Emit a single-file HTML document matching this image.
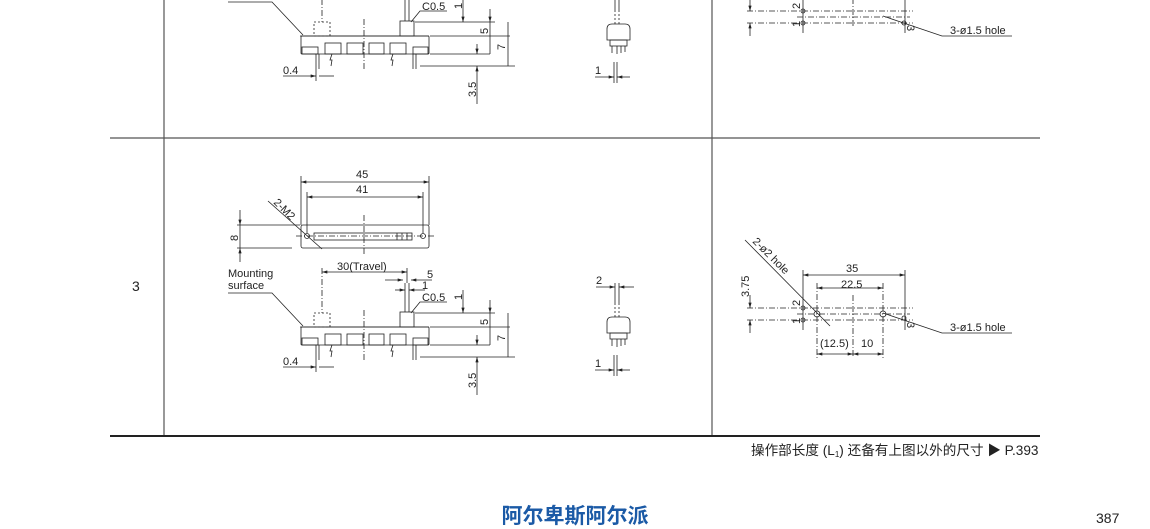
<!DOCTYPE html>
<html><head><meta charset="utf-8"><style>
html,body{margin:0;padding:0;background:#fff;width:1150px;height:529px;overflow:hidden}
svg{display:block}
text{font-family:"Liberation Sans","Noto Sans CJK SC",sans-serif;fill:#222}
</style></head><body>
<svg width="1150" height="529" viewBox="0 0 1150 529" xmlns="http://www.w3.org/2000/svg">
<defs>
<marker id="a" viewBox="0 0 10 6" refX="10" refY="3" markerWidth="8" markerHeight="4" orient="auto-start-reverse"><path d="M0,0L10,3L0,6z" fill="#222"/></marker>
</defs>
<g stroke="#555" stroke-width="1.2" fill="none">
<line x1="110" y1="138" x2="1040" y2="138"/>
<line x1="164" y1="0" x2="164" y2="436"/>
<line x1="712" y1="0" x2="712" y2="436"/>
</g>
<line x1="110" y1="436" x2="1040" y2="436" stroke="#222" stroke-width="2"/>
<text x="132" y="291" font-size="14">3</text>

<!-- LOWER FRONT -->
<g stroke="#222" stroke-width="0.8" fill="none" font-size="11">
<rect x="301" y="225" width="128" height="23" rx="2"/>
<rect x="314" y="233" width="98" height="7"/>
<line x1="397" y1="233" x2="397" y2="240"/><line x1="402" y1="233" x2="402" y2="240"/><line x1="407" y1="233" x2="407" y2="240"/>
<circle cx="307" cy="236" r="2.5"/><circle cx="423" cy="236" r="2.5"/>
<line x1="296" y1="236" x2="436" y2="236" stroke-dasharray="6,2,1,2"/>
<line x1="364" y1="215" x2="364" y2="256" stroke-dasharray="6,2,1,2"/>
<line x1="301" y1="176" x2="301" y2="225"/><line x1="429" y1="176" x2="429" y2="225"/>
<line x1="307" y1="192" x2="307" y2="233"/><line x1="423" y1="192" x2="423" y2="233"/>
<line x1="301" y1="182" x2="429" y2="182" marker-start="url(#a)" marker-end="url(#a)"/>
<line x1="307" y1="197" x2="423" y2="197" marker-start="url(#a)" marker-end="url(#a)"/>
<line x1="237" y1="225" x2="300" y2="225"/><line x1="237" y1="248" x2="292" y2="248"/>
<line x1="240" y1="210" x2="240" y2="225" marker-end="url(#a)"/><line x1="240" y1="262" x2="240" y2="248" marker-end="url(#a)"/>
<line x1="240" y1="225" x2="240" y2="248"/>
<line x1="268" y1="201" x2="322" y2="249"/>
<line x1="300" y1="327" x2="429" y2="327"/>
<rect x="301" y="327" width="128" height="18" rx="1"/>
<rect x="325" y="334" width="16" height="11"/><rect x="347" y="334" width="16" height="11"/>
<rect x="369" y="334" width="15" height="11"/><rect x="390" y="334" width="16" height="11"/>
<rect x="302" y="338" width="16" height="7"/><rect x="413" y="338" width="15" height="7"/>
<rect x="400" y="312" width="14" height="15"/>
<line x1="405" y1="283" x2="405" y2="312"/><line x1="409" y1="283" x2="409" y2="312"/>
<rect x="314" y="313" width="16" height="14" stroke-dasharray="2,2"/>
<line x1="322" y1="268" x2="322" y2="313" stroke-dasharray="6,2,1,2"/>
<line x1="407" y1="268" x2="407" y2="283"/>
<line x1="364" y1="310" x2="364" y2="360" stroke-dasharray="6,2,1,2"/>
<line x1="316" y1="345" x2="316" y2="372"/><line x1="319" y1="345" x2="319" y2="360"/>
<line x1="413" y1="345" x2="413" y2="360"/><line x1="416" y1="345" x2="416" y2="360"/>
<path d="M332 345l-2 6 2 0-1 6M393 345l-2 6 2 0-1 6"/>
<line x1="322" y1="272" x2="407" y2="272" marker-start="url(#a)" marker-end="url(#a)"/>
<line x1="385" y1="280" x2="403" y2="280" marker-end="url(#a)"/><line x1="432" y1="280" x2="411" y2="280" marker-end="url(#a)"/>
<line x1="395" y1="290" x2="405" y2="290" marker-end="url(#a)"/><line x1="425" y1="290" x2="409" y2="290" marker-end="url(#a)"/>
<path d="M447 302H420L411 313"/>
<line x1="415" y1="313" x2="495" y2="313"/><line x1="430" y1="327" x2="510" y2="327"/>
<line x1="430" y1="345" x2="490" y2="345"/><line x1="420" y1="357" x2="515" y2="357"/>
<line x1="463" y1="290" x2="463" y2="313" marker-end="url(#a)"/>
<line x1="490" y1="300" x2="490" y2="313" marker-end="url(#a)"/><line x1="490" y1="313" x2="490" y2="345"/>
<line x1="508" y1="313" x2="508" y2="357"/>
<line x1="477" y1="335" x2="477" y2="345" marker-end="url(#a)"/><line x1="477" y1="395" x2="477" y2="357" marker-end="url(#a)"/>
<line x1="283" y1="367" x2="316" y2="367" marker-end="url(#a)"/><line x1="334" y1="367" x2="319" y2="367"/>
<path d="M228 293H272L303 326"/>
<g stroke="none" fill="#222">
<text x="356" y="178">45</text><text x="356" y="193">41</text>
<text x="337" y="270">30(Travel)</text>
<text x="427" y="278">5</text><text x="422" y="289">1</text>
<text x="422" y="301">C0.5</text>
<text x="0" y="0" transform="translate(238,241) rotate(-90)">8</text>
<text x="0" y="0" transform="translate(273,203) rotate(45)">2-M2</text>
<text x="0" y="0" transform="translate(462,300) rotate(-90)">1</text>
<text x="0" y="0" transform="translate(488,325) rotate(-90)">5</text>
<text x="0" y="0" transform="translate(505,341) rotate(-90)">7</text>
<text x="0" y="0" transform="translate(476,388) rotate(-90)">3.5</text>
<text x="228" y="277">Mounting</text><text x="228" y="289">surface</text>
<text x="283" y="365">0.4</text>
</g>
</g>

<!-- UPPER FRONT (partial) -->
<g transform="translate(0,-291)" stroke="#222" stroke-width="0.8" fill="none" font-size="11">
<line x1="300" y1="327" x2="429" y2="327"/>
<rect x="301" y="327" width="128" height="18" rx="1"/>
<rect x="325" y="334" width="16" height="11"/><rect x="347" y="334" width="16" height="11"/>
<rect x="369" y="334" width="15" height="11"/><rect x="390" y="334" width="16" height="11"/>
<rect x="302" y="338" width="16" height="7"/><rect x="413" y="338" width="15" height="7"/>
<rect x="400" y="312" width="14" height="15"/>
<line x1="405" y1="283" x2="405" y2="312"/><line x1="409" y1="283" x2="409" y2="312"/>
<rect x="314" y="313" width="16" height="14" stroke-dasharray="2,2"/>
<line x1="322" y1="268" x2="322" y2="313" stroke-dasharray="6,2,1,2"/>
<line x1="364" y1="310" x2="364" y2="360" stroke-dasharray="6,2,1,2"/>
<line x1="316" y1="345" x2="316" y2="372"/><line x1="319" y1="345" x2="319" y2="360"/>
<line x1="413" y1="345" x2="413" y2="360"/><line x1="416" y1="345" x2="416" y2="360"/>
<path d="M332 345l-2 6 2 0-1 6M393 345l-2 6 2 0-1 6"/>
<path d="M447 302H420L411 313"/>
<line x1="415" y1="313" x2="495" y2="313"/><line x1="430" y1="327" x2="510" y2="327"/>
<line x1="430" y1="345" x2="490" y2="345"/><line x1="420" y1="357" x2="515" y2="357"/>
<line x1="463" y1="290" x2="463" y2="313" marker-end="url(#a)"/>
<line x1="490" y1="300" x2="490" y2="313" marker-end="url(#a)"/><line x1="490" y1="313" x2="490" y2="345"/>
<line x1="508" y1="313" x2="508" y2="357"/>
<line x1="477" y1="335" x2="477" y2="345" marker-end="url(#a)"/><line x1="477" y1="395" x2="477" y2="357" marker-end="url(#a)"/>
<line x1="283" y1="367" x2="316" y2="367" marker-end="url(#a)"/><line x1="334" y1="367" x2="319" y2="367"/>
<path d="M228 293H272L303 326"/>
<g stroke="none" fill="#222">
<text x="422" y="301">C0.5</text>
<text x="0" y="0" transform="translate(462,300) rotate(-90)">1</text>
<text x="0" y="0" transform="translate(488,325) rotate(-90)">5</text>
<text x="0" y="0" transform="translate(505,341) rotate(-90)">7</text>
<text x="0" y="0" transform="translate(476,388) rotate(-90)">3.5</text>
<text x="283" y="365">0.4</text>
</g>
</g>

<!-- SIDE VIEWS -->
<g stroke="#222" stroke-width="0.8" fill="none" font-size="11">
<line x1="596" y1="287" x2="615" y2="287" marker-end="url(#a)"/><line x1="634" y1="287" x2="619" y2="287" marker-end="url(#a)"/>
<line x1="615" y1="283" x2="615" y2="303"/><line x1="619" y1="283" x2="619" y2="303"/>
<line x1="615" y1="303" x2="615" y2="317" stroke-dasharray="2,2"/><line x1="619" y1="303" x2="619" y2="317" stroke-dasharray="2,2"/>
<path d="M607 333V322Q607 317 612 317H625Q630 317 630 322V333Z"/>
<rect x="610" y="333" width="17" height="6"/>
<path d="M612 339v7M617 339v8M621 339v7M625 339v6"/>
<line x1="595" y1="370" x2="614" y2="370" marker-end="url(#a)"/><line x1="630" y1="370" x2="617" y2="370" marker-end="url(#a)"/>
<line x1="614" y1="355" x2="614" y2="376"/><line x1="617" y1="355" x2="617" y2="376"/>
<g stroke="none" fill="#222"><text x="596" y="284">2</text><text x="595" y="367">1</text></g>
</g>
<g transform="translate(0,-293)" stroke="#222" stroke-width="0.8" fill="none" font-size="11">
<line x1="615" y1="283" x2="615" y2="303"/><line x1="619" y1="283" x2="619" y2="303"/>
<line x1="615" y1="303" x2="615" y2="317" stroke-dasharray="2,2"/><line x1="619" y1="303" x2="619" y2="317" stroke-dasharray="2,2"/>
<path d="M607 333V322Q607 317 612 317H625Q630 317 630 322V333Z"/>
<rect x="610" y="333" width="17" height="6"/>
<path d="M612 339v7M617 339v8M621 339v7M625 339v6"/>
<line x1="595" y1="370" x2="614" y2="370" marker-end="url(#a)"/><line x1="630" y1="370" x2="617" y2="370" marker-end="url(#a)"/>
<line x1="614" y1="355" x2="614" y2="376"/><line x1="617" y1="355" x2="617" y2="376"/>
<g stroke="none" fill="#222"><text x="595" y="367">1</text></g>
</g>

<!-- RIGHT PCB LOWER -->
<g stroke="#222" stroke-width="0.8" fill="none" font-size="11">
<line x1="745" y1="240" x2="830" y2="326"/>
<line x1="803" y1="270" x2="803" y2="330"/><line x1="905" y1="270" x2="905" y2="330"/>
<line x1="817" y1="283" x2="817" y2="358" stroke-dasharray="6,2,1,2"/><line x1="883" y1="283" x2="883" y2="358" stroke-dasharray="6,2,1,2"/>
<line x1="853" y1="295" x2="853" y2="358" stroke-dasharray="6,2,1,2"/>
<line x1="803" y1="275" x2="905" y2="275" marker-start="url(#a)" marker-end="url(#a)"/>
<line x1="817" y1="288" x2="883" y2="288" marker-start="url(#a)" marker-end="url(#a)"/>
<line x1="747" y1="308" x2="913" y2="308" stroke-dasharray="6,2,1,2"/>
<line x1="797" y1="314" x2="910" y2="314" stroke-dasharray="6,2,1,2"/>
<line x1="747" y1="320" x2="913" y2="320" stroke-dasharray="6,2,1,2"/>
<circle cx="803" cy="308" r="2"/><circle cx="803" cy="320" r="2"/><circle cx="904" cy="318" r="2"/>
<circle cx="817" cy="314" r="3"/><circle cx="883" cy="314" r="3"/>
<line x1="750" y1="295" x2="750" y2="308" marker-end="url(#a)"/><line x1="750" y1="333" x2="750" y2="320" marker-end="url(#a)"/>
<path d="M883 313L942 333H1012"/>
<line x1="817" y1="354" x2="853" y2="354" marker-start="url(#a)" marker-end="url(#a)"/>
<line x1="853" y1="354" x2="883" y2="354" marker-start="url(#a)" marker-end="url(#a)"/>
<g stroke="none" fill="#222">
<text x="0" y="0" transform="translate(752,242) rotate(45)">2-ø2 hole</text>
<text x="846" y="272">35</text><text x="841" y="288">22.5</text>
<text x="0" y="0" transform="translate(749,297) rotate(-90)">3.75</text>
<text x="0" y="0" transform="translate(800,306) rotate(-90)">2</text>
<text x="0" y="0" transform="translate(800,324) rotate(-90)">1</text>
<text x="0" y="0" transform="translate(907,322) rotate(90)">3</text>
<text x="950" y="331">3-ø1.5 hole</text>
<text x="820" y="347">(12.5)</text><text x="861" y="347">10</text>
</g>
</g>
<!-- RIGHT PCB UPPER partial -->
<g transform="translate(0,-297)" stroke="#222" stroke-width="0.8" fill="none" font-size="11">
<line x1="803" y1="270" x2="803" y2="330"/><line x1="905" y1="270" x2="905" y2="330"/>
<line x1="853" y1="295" x2="853" y2="325" stroke-dasharray="6,2,1,2"/>
<line x1="747" y1="308" x2="913" y2="308" stroke-dasharray="6,2,1,2"/>
<line x1="797" y1="314" x2="910" y2="314" stroke-dasharray="6,2,1,2"/>
<line x1="747" y1="320" x2="913" y2="320" stroke-dasharray="6,2,1,2"/>
<circle cx="803" cy="308" r="2"/><circle cx="803" cy="320" r="2"/><circle cx="904" cy="320" r="2"/>
<line x1="750" y1="295" x2="750" y2="308" marker-end="url(#a)"/><line x1="750" y1="333" x2="750" y2="320" marker-end="url(#a)"/>
<path d="M883 313L942 333H1012"/>
<g stroke="none" fill="#222">
<text x="0" y="0" transform="translate(800,306) rotate(-90)">2</text>
<text x="0" y="0" transform="translate(800,324) rotate(-90)">1</text>
<text x="0" y="0" transform="translate(907,322) rotate(90)">3</text>
<text x="950" y="331">3-ø1.5 hole</text>
</g>
</g>

<text x="751" y="455" font-size="13.6">操作部长度 (L<tspan font-size="8" dy="2">1</tspan><tspan dy="-2">) 还备有上图以外的尺寸 ▶ P.393</tspan></text>
<text x="575" y="523" font-size="21" font-weight="bold" text-anchor="middle" style="fill:#1b5aa6">阿尔卑斯阿尔派</text>
<text x="1096" y="523" font-size="14">387</text>
</svg>
</body></html>
